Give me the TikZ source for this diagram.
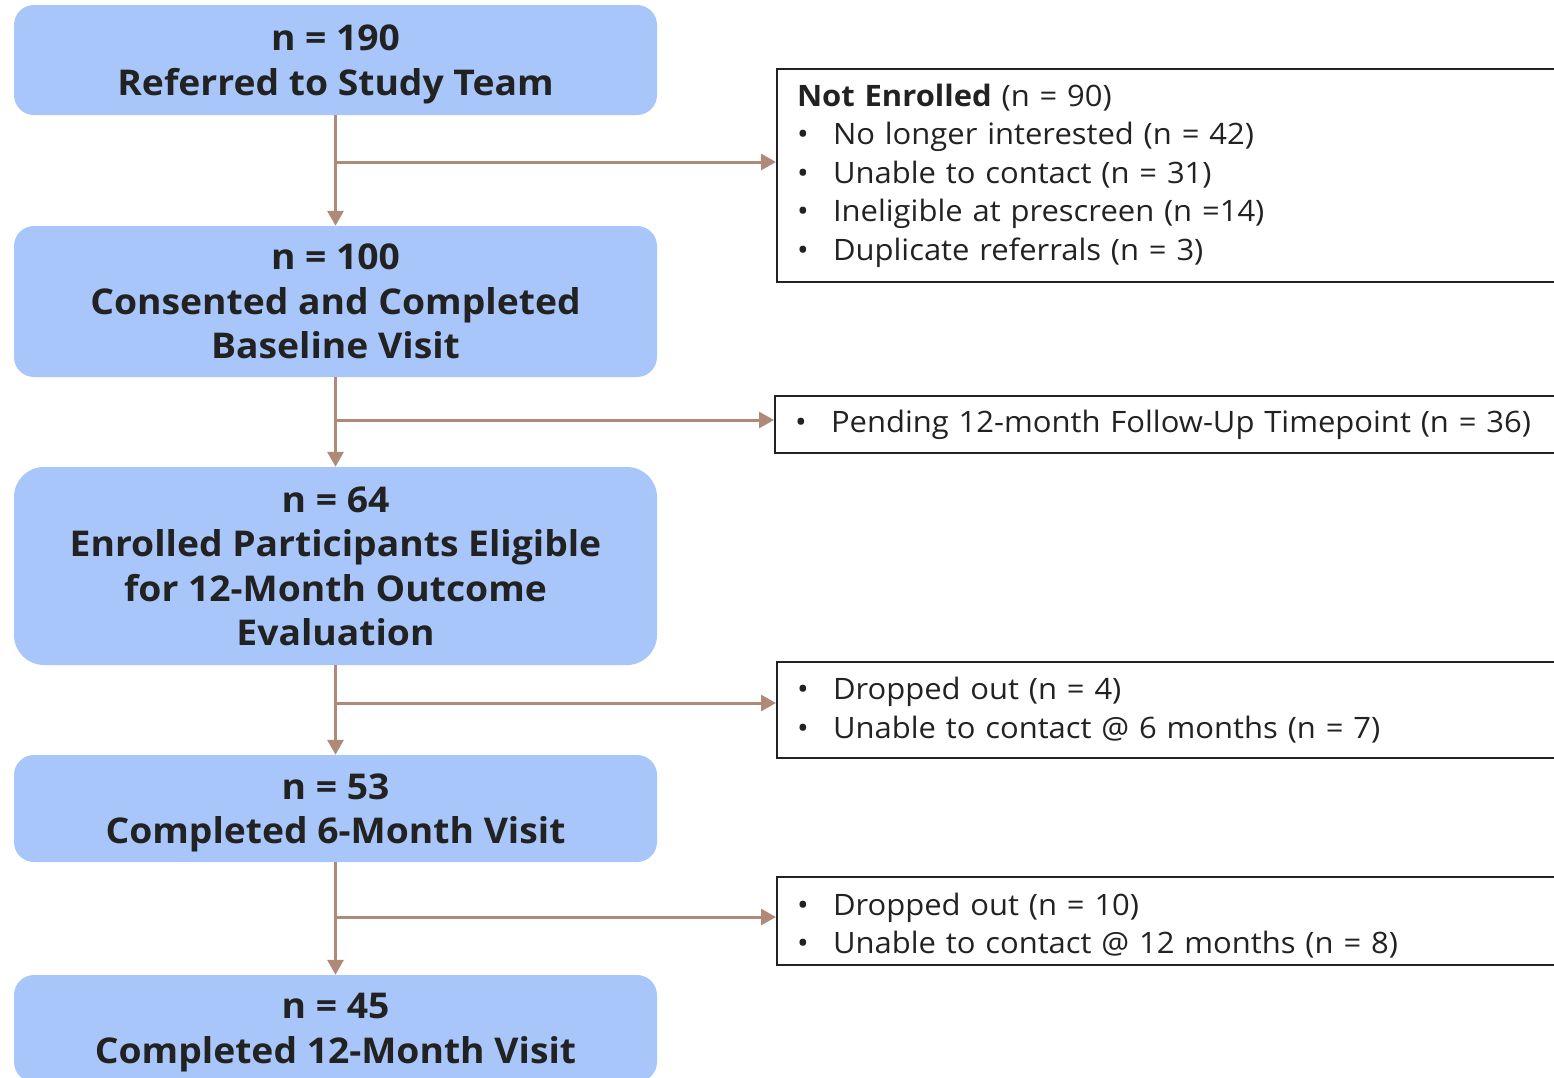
\documentclass[tikz,border=0pt]{standalone}
\usepackage{fontspec}
\setmainfont{Open Sans}[FakeStretch=1.05]
\usetikzlibrary{arrows.meta}

\definecolor{boxblue}{HTML}{A9C6FB}
\definecolor{flowbrown}{HTML}{B08A78}
\definecolor{inkgrey}{HTML}{222222}

\tikzset{
  stage/.style={fill=boxblue, rounded corners=20pt, minimum width=643pt,
    align=center, text=inkgrey, inner sep=0pt, text depth=0pt,
    font=\fontsize{35.5}{44.5}\selectfont\bfseries},
  exclbox/.style={draw=inkgrey, line width=2pt, anchor=north west,
    minimum width=900pt, text width=860pt, align=left, text=inkgrey,
    inner xsep=20pt, inner ysep=0pt,
    font=\fontsize{29.5}{38.5}\selectfont},
  flow/.style={draw=flowbrown, line width=3pt,
    -{Triangle[width=16pt,length=15pt]}},
}
\newcommand{\bitem}{\makebox[36pt][l]{\textbullet}}

\begin{document}
\begin{tikzpicture}[x=1pt,y=-1pt]
  \clip (0,0) rectangle (1554,1077);

  % Left column: study stages
  \node[stage, minimum height=110pt] (s1) at (335.5,60)
    {n = 190\\Referred to Study Team};
  \node[stage, minimum height=151pt] (s2) at (335.5,301.5)
    {n = 100\\Consented and Completed\\Baseline Visit};
  \node[stage, minimum height=198pt, rounded corners=30pt] (s3) at (335.5,566)
    {n = 64\\Enrolled Participants Eligible\\for 12-Month Outcome\\Evaluation};
  \node[stage, minimum height=107pt] (s4) at (335.5,808.5)
    {n = 53\\Completed 6-Month Visit};
  \node[stage, minimum height=107pt] (s5) at (335.5,1028.5)
    {n = 45\\Completed 12-Month Visit};

  % Right column: losses
  \node[exclbox, minimum height=213pt] (rA) at (776,68)
    {\textbf{Not Enrolled} (n = 90)\\
     \bitem No longer interested (n = 42)\\
     \bitem Unable to contact (n = 31)\\
     \bitem Ineligible at prescreen (n =14)\\
     \bitem Duplicate referrals (n = 3)};
  \node[exclbox, minimum height=57pt] (rB) at (774,395)
    {\bitem Pending 12-month Follow-Up Timepoint (n = 36)};
  \node[exclbox, minimum height=96pt] (rC) at (776,661)
    {\bitem Dropped out (n = 4)\\
     \bitem Unable to contact @ 6 months (n = 7)};
  \node[exclbox, minimum height=88pt, text depth=34pt] (rD) at (776,876)
    {\bitem Dropped out (n = 10)\\
     \bitem Unable to contact @ 12 months (n = 8)};

  % branch points
  \coordinate (j1) at (336,162);
  \coordinate (j2) at (336,420);
  \coordinate (j3) at (336,703);
  \coordinate (j4) at (336,917);

  \draw[flow] (s1) -- (s2);
  \draw[flow] (s2) -- (s3);
  \draw[flow] (s3) -- (s4);
  \draw[flow] (s4) -- (s5);

  \draw[flow] (j1) -- (j1 -| rA.west);
  \draw[flow] (j2) -- (j2 -| rB.west);
  \draw[flow] (j3) -- (j3 -| rC.west);
  \draw[flow] (j4) -- (j4 -| rD.west);
\end{tikzpicture}
\end{document}
